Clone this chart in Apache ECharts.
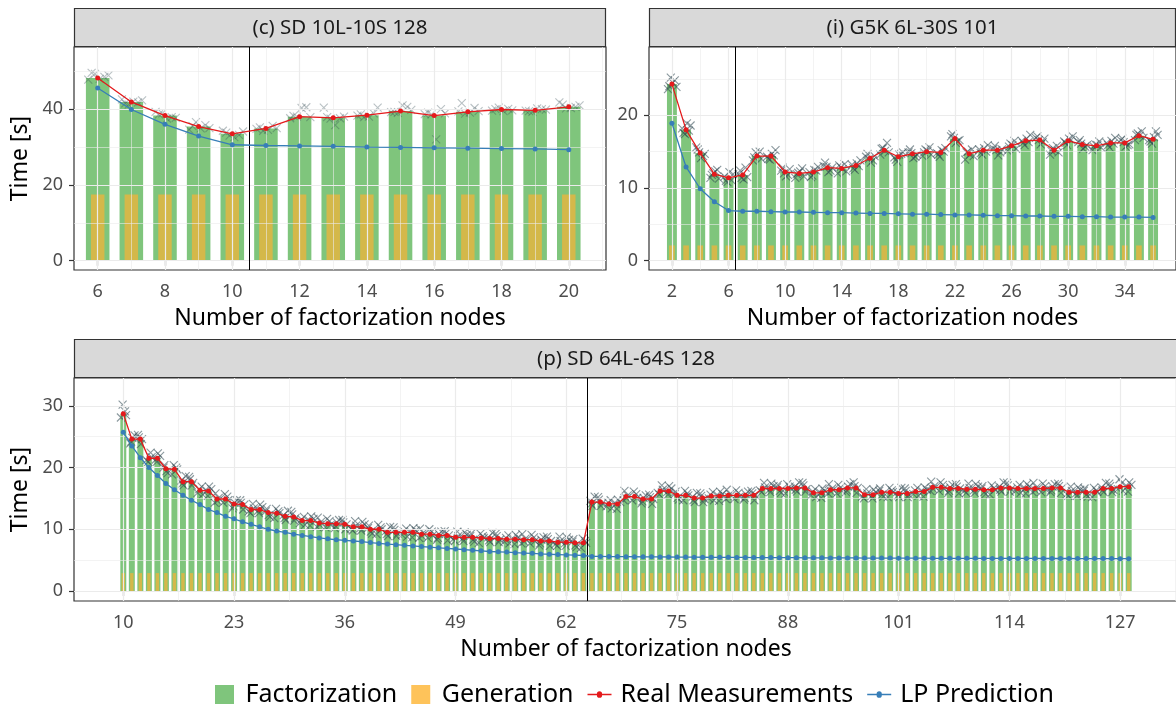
<!DOCTYPE html>
<html>
<head>
<meta charset="utf-8">
<script src="https://cdn.jsdelivr.net/npm/echarts@6/dist/echarts.min.js"></script>
<style>
  html, body { margin: 0; padding: 0; background: #ffffff; }
  #chart { width: 1176px; height: 709px; }
</style>
</head>
<body>
<div id="chart"></div>
<script>
// ---------- (c) SD 10L-10S 128 ----------
const nodesC = [6, 7, 8, 9, 10, 11, 12, 13, 14, 15, 16, 17, 18, 19, 20];
const realC = [48.2, 41.9, 38.3, 35.4, 33.5, 34.9, 38.0, 37.7, 38.4, 39.5, 38.3, 39.3, 39.9, 39.7, 40.6];
const lpC = [45.6, 39.9, 36.0, 32.9, 30.6, 30.4, 30.3, 30.2, 30.0, 29.9, 29.8, 29.7, 29.6, 29.5, 29.3];
const genC = [17.5, 17.5, 17.5, 17.5, 17.5, 17.5, 17.5, 17.5, 17.5, 17.5, 17.5, 17.5, 17.5, 17.5, 17.5];
const measC = [
  [47.8, 48.5, 49.3, 48.9, 48.0, 49.6], [41.2, 42.3, 42.0, 41.5, 42.6, 41.8],
  [37.5, 38.6, 39.3, 37.9, 38.9, 37.7], [34.6, 35.8, 36.6, 35.0, 34.9, 35.5],
  [33.0, 34.1, 32.6, 33.8, 34.3, 33.2], [34.5, 35.2, 34.8, 35.6, 34.3, 35.0],
  [37.6, 40.5, 38.0, 37.9, 40.3, 38.2], [37.5, 38.0, 35.8, 37.9, 40.4, 37.6],
  [38.0, 38.6, 38.3, 38.9, 37.9, 40.4], [39.2, 40.6, 39.0, 39.8, 41.0, 39.3],
  [38.6, 38.9, 32.0, 39.1, 38.7, 40.0], [39.1, 41.6, 39.4, 40.3, 38.8, 39.5],
  [39.6, 40.1, 40.4, 39.7, 39.5, 40.0], [39.3, 39.9, 40.2, 39.5, 39.6, 40.0],
  [40.3, 41.2, 41.8, 40.6, 40.2, 41.0]
];
const xTicksC = [6, 8, 10, 12, 14, 16, 18, 20];
const xMinorC = [7, 9, 11, 13, 15, 17, 19, 21];
const yTicksC = [0, 20, 40];
const yMinorC = [10, 30, 50];
const splitC = 10.5;

// ---------- (i) G5K 6L-30S 101 ----------
const nodesI = [2, 3, 4, 5, 6, 7, 8, 9, 10, 11, 12, 13, 14, 15, 16, 17, 18, 19, 20, 21, 22, 23, 24, 25, 26, 27, 28, 29, 30, 31, 32, 33, 34, 35, 36];
const realI = [24.3, 18.0, 14.8, 11.9, 11.4, 11.8, 14.4, 14.4, 12.2, 12.0, 12.2, 12.8, 12.7, 13.1, 14.1, 15.2, 14.3, 14.7, 15.0, 14.9, 16.8, 14.7, 15.2, 15.2, 15.8, 16.5, 16.6, 15.2, 16.5, 16.0, 15.8, 16.2, 16.2, 17.2, 16.7];
const lpI = [18.9, 12.9, 9.9, 8.1, 6.9, 6.8, 6.8, 6.75, 6.7, 6.7, 6.65, 6.6, 6.6, 6.55, 6.5, 6.5, 6.45, 6.4, 6.4, 6.35, 6.3, 6.3, 6.25, 6.2, 6.2, 6.15, 6.15, 6.1, 6.1, 6.05, 6.05, 6.0, 6.0, 6.0, 5.95];
const genI = [2.1, 2.1, 2.1, 2.1, 2.1, 2.1, 2.1, 2.1, 2.1, 2.1, 2.1, 2.1, 2.1, 2.1, 2.1, 2.1, 2.1, 2.1, 2.1, 2.1, 2.1, 2.1, 2.1, 2.1, 2.1, 2.1, 2.1, 2.1, 2.1, 2.1, 2.1, 2.1, 2.1, 2.1, 2.1];
const measI = [
  [23.6, 24.8, 25.2, 23.9, 24.5, 24.0], [17.4, 18.6, 18.9, 17.6, 18.2, 17.9],
  [14.1, 15.3, 15.6, 14.4, 14.9, 14.7], [11.4, 12.5, 12.0, 11.3, 12.3, 11.8],
  [10.8, 11.9, 12.2, 11.0, 11.6, 11.1], [11.2, 12.4, 11.9, 12.8, 11.4, 11.5],
  [13.8, 15.0, 14.9, 14.0, 14.6, 14.2], [13.9, 15.2, 14.7, 14.0, 14.3, 14.5],
  [11.6, 12.8, 12.4, 11.8, 12.0, 12.6], [11.4, 12.7, 12.1, 11.6, 12.3, 11.9],
  [11.7, 12.9, 12.5, 11.5, 12.2, 12.4], [12.2, 13.5, 13.0, 12.4, 12.9, 12.8],
  [12.0, 13.3, 12.9, 12.3, 12.6, 13.1], [12.5, 13.8, 13.4, 12.7, 13.2, 13.0],
  [13.5, 14.7, 14.3, 13.8, 14.0, 14.4], [14.6, 16.2, 15.5, 14.9, 15.1, 15.4],
  [13.6, 14.9, 14.6, 13.9, 14.2, 14.7], [14.1, 15.3, 14.9, 14.3, 14.8, 14.6],
  [14.4, 15.6, 15.3, 14.6, 15.1, 14.9], [14.3, 15.5, 15.2, 14.6, 14.8, 15.0],
  [16.2, 17.4, 17.1, 16.5, 16.9, 16.6], [13.9, 15.3, 15.0, 14.4, 14.6, 14.9],
  [14.6, 15.9, 15.5, 14.8, 15.3, 15.0], [14.5, 15.8, 15.4, 14.9, 15.2, 15.3],
  [15.1, 16.5, 16.1, 15.4, 15.9, 15.7], [15.9, 17.3, 16.8, 16.2, 16.5, 16.3],
  [16.0, 17.1, 16.9, 16.3, 16.6, 16.8], [14.6, 15.8, 15.5, 14.9, 15.2, 15.1],
  [15.9, 17.1, 16.8, 16.2, 16.4, 16.6], [15.4, 16.6, 16.3, 15.7, 16.1, 15.9],
  [15.2, 16.4, 16.0, 15.6, 15.9, 15.7], [15.6, 16.9, 16.5, 15.9, 16.2, 16.1],
  [15.7, 16.8, 16.6, 15.9, 16.3, 16.0], [16.6, 17.8, 17.5, 16.9, 17.2, 17.3],
  [16.1, 17.3, 17.0, 16.4, 16.6, 17.8]
];
const xTicksI = [2, 6, 10, 14, 18, 22, 26, 30, 34];
const xMinorI = [4, 8, 12, 16, 20, 24, 28, 32, 36];
const yTicksI = [0, 10, 20];
const yMinorI = [5, 15, 25];
const splitI = 6.5;

// ---------- (p) SD 64L-64S 128 ----------
const nodesP = [
  10, 11, 12, 13, 14, 15, 16, 17, 18, 19, 20, 21, 22, 23, 24, 25, 26, 27, 28, 29,
  30, 31, 32, 33, 34, 35, 36, 37, 38, 39, 40, 41, 42, 43, 44, 45, 46, 47, 48, 49,
  50, 51, 52, 53, 54, 55, 56, 57, 58, 59, 60, 61, 62, 63, 64, 65, 66, 67, 68, 69,
  70, 71, 72, 73, 74, 75, 76, 77, 78, 79, 80, 81, 82, 83, 84, 85, 86, 87, 88, 89,
  90, 91, 92, 93, 94, 95, 96, 97, 98, 99, 100, 101, 102, 103, 104, 105, 106, 107, 108, 109,
  110, 111, 112, 113, 114, 115, 116, 117, 118, 119, 120, 121, 122, 123, 124, 125, 126, 127, 128
];
const realP = [
  28.7, 24.6, 24.6, 21.5, 21.5, 19.8, 19.7, 17.7, 17.7, 16.3,
  16.2, 14.9, 14.9, 14.1, 14.0, 13.2, 13.2, 12.7, 12.6, 12.1,
  12.0, 11.4, 11.4, 11.0, 10.9, 10.9, 10.8, 10.4, 10.4, 10.0,
  10.0, 9.5, 9.5, 9.5, 9.5, 9.2, 9.2, 9.0, 9.0, 8.7,
  8.7, 8.7, 8.6, 8.5, 8.5, 8.4, 8.4, 8.3, 8.3, 8.1,
  8.1, 7.9, 7.9, 7.8, 7.8,
  14.4, 14.4, 14.1, 14.1, 15.3, 15.3, 14.9, 14.9, 16.2, 16.2,
  15.5, 15.5, 15.05, 15.05, 15.4, 15.4, 15.5, 15.5, 15.5, 15.5,
  16.6, 16.6, 16.6, 16.6, 16.7, 16.7, 15.9, 15.9, 16.4, 16.4,
  16.7, 16.7, 15.6, 15.6, 16.0, 16.0, 15.8, 15.8, 16.1, 16.1,
  16.8, 16.8, 16.6, 16.6, 16.5, 16.5, 16.4, 16.4, 16.7, 16.7,
  16.6, 16.6, 16.6, 16.6, 16.7, 16.7, 16.0, 16.0, 16.0, 16.0,
  16.6, 16.6, 16.9, 16.9
];
const lpP = [
  25.7, 23.5, 21.6, 20.0, 18.7, 17.4, 16.4, 15.5, 14.7, 14.0,
  13.2, 12.7, 12.1, 11.7, 11.2, 10.8, 10.4, 10.0, 9.7, 9.5,
  9.2, 9.0, 8.8, 8.6, 8.45, 8.3, 8.2, 8.1, 8.0, 7.85,
  7.7, 7.6, 7.5, 7.4, 7.3, 7.2, 7.1, 7.0, 6.9, 6.8,
  6.7, 6.6, 6.5, 6.4, 6.35, 6.3, 6.2, 6.15, 6.1, 6.0,
  5.95, 5.9, 5.85, 5.8, 5.75,
  5.6, 5.6, 5.58, 5.57, 5.56, 5.55, 5.54, 5.53, 5.52, 5.51,
  5.5, 5.49, 5.48, 5.47, 5.46, 5.45, 5.45, 5.44, 5.43, 5.42,
  5.42, 5.41, 5.4, 5.4, 5.39, 5.38, 5.38, 5.37, 5.36, 5.36,
  5.35, 5.35, 5.34, 5.34, 5.33, 5.33, 5.32, 5.32, 5.31, 5.31,
  5.3, 5.3, 5.3, 5.29, 5.29, 5.29, 5.28, 5.28, 5.28, 5.27,
  5.27, 5.27, 5.27, 5.26, 5.26, 5.26, 5.26, 5.25, 5.25, 5.25,
  5.25, 5.25, 5.24, 5.24
];
const genP = [
  2.9, 2.9, 2.9, 2.9, 2.9, 2.9, 2.9, 2.9, 2.9, 2.9, 2.9, 2.9, 2.9, 2.9, 2.9, 2.9, 2.9, 2.9, 2.9, 2.9,
  2.9, 2.9, 2.9, 2.9, 2.9, 2.9, 2.9, 2.9, 2.9, 2.9, 2.9, 2.9, 2.9, 2.9, 2.9, 2.9, 2.9, 2.9, 2.9, 2.9,
  2.9, 2.9, 2.9, 2.9, 2.9, 2.9, 2.9, 2.9, 2.9, 2.9, 2.9, 2.9, 2.9, 2.9, 2.9, 2.9, 2.9, 2.9, 2.9, 2.9,
  2.9, 2.9, 2.9, 2.9, 2.9, 2.9, 2.9, 2.9, 2.9, 2.9, 2.9, 2.9, 2.9, 2.9, 2.9, 2.9, 2.9, 2.9, 2.9, 2.9,
  2.9, 2.9, 2.9, 2.9, 2.9, 2.9, 2.9, 2.9, 2.9, 2.9, 2.9, 2.9, 2.9, 2.9, 2.9, 2.9, 2.9, 2.9, 2.9, 2.9,
  2.9, 2.9, 2.9, 2.9, 2.9, 2.9, 2.9, 2.9, 2.9, 2.9, 2.9, 2.9, 2.9, 2.9, 2.9, 2.9, 2.9, 2.9, 2.9
];
const measP = [
  [28.1, 29.1, 30.2, 28.5], [24.2, 25.2, 24.8, 23.9], [23.8, 24.9, 25.3, 24.6], [21.2, 22.4, 20.9, 21.7],
  [20.9, 21.9, 22.3, 21.3], [19.4, 20.4, 20.0, 19.1], [18.9, 20.0, 20.4, 19.7], [17.4, 18.6, 17.1, 17.9],
  [17.1, 18.1, 18.5, 17.5], [15.9, 16.9, 16.5, 15.6], [15.4, 16.5, 16.9, 16.2], [14.6, 15.8, 14.3, 15.1],
  [14.3, 15.3, 15.7, 14.7], [13.7, 14.7, 14.3, 13.4], [13.2, 14.3, 14.7, 14.0], [12.9, 14.1, 12.6, 13.4],
  [12.6, 13.6, 14.0, 13.0], [12.3, 13.3, 12.9, 12.0], [11.8, 12.9, 13.3, 12.6], [11.8, 13.0, 11.5, 12.3],
  [11.4, 12.4, 12.8, 11.8], [11.0, 12.0, 11.6, 10.7], [10.6, 11.7, 12.1, 11.4], [10.7, 11.9, 10.4, 11.2],
  [10.3, 11.3, 11.7, 10.7], [10.5, 11.5, 11.1, 10.2], [10.0, 11.1, 11.5, 10.8], [10.1, 11.3, 9.8, 10.6],
  [9.8, 10.8, 11.2, 10.2], [9.6, 10.6, 10.2, 9.3], [9.2, 10.3, 10.7, 10.0], [9.2, 10.4, 8.9, 9.7],
  [8.9, 9.9, 10.3, 9.3], [9.1, 10.1, 9.7, 8.8], [8.7, 9.8, 10.2, 9.5], [8.9, 10.1, 8.6, 9.4],
  [8.6, 9.6, 10.0, 9.0], [8.6, 9.6, 9.2, 8.3], [8.2, 9.3, 9.7, 9.0], [8.4, 9.6, 8.1, 8.9],
  [8.1, 9.1, 9.5, 8.5], [8.3, 9.3, 8.9, 8.0], [7.8, 8.9, 9.3, 8.6], [8.2, 9.4, 7.9, 8.7],
  [7.9, 8.9, 9.3, 8.3], [8.0, 9.0, 8.6, 7.7], [7.6, 8.7, 9.1, 8.4], [8.0, 9.2, 7.7, 8.5],
  [7.7, 8.7, 9.1, 8.1], [7.7, 8.7, 8.3, 7.4], [7.3, 8.4, 8.8, 8.1], [7.6, 8.8, 7.3, 8.1],
  [7.3, 8.3, 8.7, 7.7], [7.4, 8.4, 8.0, 7.1], [7.0, 8.1, 8.5, 7.8],
  [14.1, 15.3, 13.8, 14.6], [13.8, 14.8, 15.2, 14.2], [13.7, 14.7, 14.3, 13.4], [13.3, 14.4, 14.8, 14.1],
  [15.0, 16.2, 14.7, 15.5], [14.7, 15.7, 16.1, 15.1], [14.5, 15.5, 15.1, 14.2], [14.1, 15.2, 15.6, 14.9],
  [15.9, 17.1, 15.6, 16.4], [15.6, 16.6, 17.0, 16.0], [15.1, 16.1, 15.7, 14.8], [14.7, 15.8, 16.2, 15.5],
  [14.7, 15.9, 14.4, 15.3], [14.4, 15.4, 15.8, 14.9], [15.0, 16.0, 15.6, 14.7], [14.6, 15.7, 16.1, 15.4],
  [15.2, 16.4, 14.9, 15.7], [14.9, 15.9, 16.3, 15.3], [15.1, 16.1, 15.7, 14.8], [14.7, 15.8, 16.2, 15.5],
  [16.3, 17.5, 16.0, 16.8], [16.0, 17.0, 17.4, 16.4], [16.2, 17.2, 16.8, 15.9], [15.8, 16.9, 17.3, 16.6],
  [16.4, 17.6, 16.1, 16.9], [16.1, 17.1, 17.5, 16.5], [15.5, 16.5, 16.1, 15.2], [15.1, 16.2, 16.6, 15.9],
  [16.1, 17.3, 15.8, 16.6], [15.8, 16.8, 17.2, 16.2], [16.3, 17.3, 16.9, 16.0], [15.9, 17.0, 17.6, 16.7],
  [15.3, 16.5, 15.0, 15.8], [15.0, 16.0, 16.4, 15.4], [15.6, 16.6, 16.2, 15.3], [15.2, 16.3, 16.7, 16.0],
  [15.5, 16.7, 15.2, 16.0], [15.2, 16.2, 16.6, 15.6], [15.7, 16.7, 16.3, 15.4], [15.3, 16.4, 16.8, 16.1],
  [16.5, 17.7, 16.2, 17.0], [16.2, 17.2, 17.6, 16.6], [16.2, 17.2, 16.8, 15.9], [15.8, 16.9, 17.3, 16.6],
  [16.2, 17.4, 15.9, 16.7], [15.9, 16.9, 17.3, 16.3], [16.0, 17.0, 16.6, 15.7], [15.6, 16.7, 17.1, 16.4],
  [16.4, 17.6, 16.1, 16.9], [16.1, 17.1, 17.5, 16.5], [16.2, 17.2, 16.8, 15.9], [15.8, 16.9, 17.3, 16.6],
  [16.3, 17.5, 16.0, 16.8], [16.0, 17.0, 17.4, 16.4], [16.3, 17.3, 16.9, 16.0], [15.9, 17.0, 17.4, 16.7],
  [15.7, 16.9, 15.4, 16.2], [15.4, 16.4, 16.8, 15.8], [15.6, 16.6, 16.2, 15.3], [15.2, 16.3, 16.7, 16.0],
  [16.3, 17.5, 16.0, 16.8], [16.0, 17.0, 17.4, 16.4], [16.5, 17.5, 18.1, 16.2], [16.1, 17.2, 17.6, 16.9]
];
const xTicksP = [10, 23, 36, 49, 62, 75, 88, 101, 114, 127];
const xMinorP = [16.5, 29.5, 42.5, 55.5, 68.5, 81.5, 94.5, 107.5, 120.5, 133.5];
const yTicksP = [0, 10, 20, 30];
const yMinorP = [5, 15, 25];
const splitP = 64.5;

// ---------- styling ----------
const FONT = '"Noto Sans", "DejaVu Sans", sans-serif';
const GREEN = 'rgba(77,175,74,0.72)';
const ORANGE = 'rgba(252,178,50,0.68)';
const ORANGE_KEY = '#FEC35A';
const RED = '#E41A1C';
const BLUE = '#377EB8';
const GRIDLINE = '#EBEBEB';
const JITTER = [-0.28, 0.2, -0.08, 0.32, 0.06, -0.18];
const CROSS_PATH = 'path://M0,0L10,10M10,0L0,10';

const panels = [
  {
    title: '(c) SD 10L-10S 128', box: { left: 74, top: 47, width: 532, height: 223 },
    xRange: [5.296, 21.106], yRange: [-2.45, 56.4], yName: 'Time [s]', crossAlpha: 0.42,
    nodes: nodesC, real: realC, lp: lpC, gen: genC, meas: measC, split: splitC,
    xTicks: xTicksC, xMinor: xMinorC, yTicks: yTicksC, yMinor: yMinorC
  },
  {
    title: '(i) G5K 6L-30S 101', box: { left: 649, top: 47, width: 527, height: 223 },
    xRange: [0.38, 37.62], yRange: [-1.28, 29.4], yName: '', crossAlpha: 0.7,
    nodes: nodesI, real: realI, lp: lpI, gen: genI, meas: measI, split: splitI,
    xTicks: xTicksI, xMinor: xMinorI, yTicks: yTicksI, yMinor: yMinorI
  },
  {
    title: '(p) SD 64L-64S 128', box: { left: 74, top: 378, width: 1104, height: 223 },
    xRange: [4.213, 133.787], yRange: [-1.62, 34.5], yName: 'Time [s]', crossAlpha: 0.7,
    nodes: nodesP, real: realP, lp: lpP, gen: genP, meas: measP, split: splitP,
    xTicks: xTicksP, xMinor: xMinorP, yTicks: yTicksP, yMinor: yMinorP
  }
];

const grids = [], xAxes = [], yAxes = [], series = [], graphics = [];

panels.forEach((p, g) => {
  grids.push(Object.assign({
    show: true, backgroundColor: '#ffffff', borderColor: '#333333', borderWidth: 1.2,
    containLabel: false, outerBoundsMode: 'none'
  }, p.box));

  // facet strip above the panel
  graphics.push({
    type: 'rect', z: 10,
    shape: { x: p.box.left + 0.5, y: p.box.top - 38.5, width: p.box.width - 1, height: 38 },
    style: { fill: '#D9D9D9', stroke: '#333333', lineWidth: 1.2 }
  });
  graphics.push({
    type: 'text', z: 11,
    x: p.box.left + p.box.width / 2, y: p.box.top - 19,
    style: {
      text: p.title, fill: '#1A1A1A', fontSize: 20.5, fontFamily: FONT,
      align: 'center', verticalAlign: 'middle', textAlign: 'center', textVerticalAlign: 'middle'
    }
  });

  const labelStyle = { fontFamily: FONT, fontSize: 18, color: '#4D4D4D' };
  xAxes.push({
    type: 'value', gridIndex: g, min: p.xRange[0], max: p.xRange[1],
    name: 'Number of factorization nodes', nameLocation: 'middle', nameGap: 37,
    nameTextStyle: { fontFamily: FONT, fontSize: 23, color: '#000000' },
    axisLine: { show: false },
    axisTick: { show: true, length: 5, customValues: p.xTicks, lineStyle: { color: '#333333', width: 1.2 } },
    axisLabel: Object.assign({ customValues: p.xTicks, margin: 13 }, labelStyle),
    splitLine: { show: false }
  });
  // second, hidden axis so the narrow bars sit centred on the wide ones
  xAxes.push({ type: 'value', gridIndex: g, min: p.xRange[0], max: p.xRange[1], show: false });

  yAxes.push({
    type: 'value', gridIndex: g, min: p.yRange[0], max: p.yRange[1],
    name: p.yName, nameLocation: 'middle', nameGap: 42, nameRotate: 90,
    nameTextStyle: { fontFamily: FONT, fontSize: 23, color: '#000000' },
    axisLine: { show: false },
    axisTick: { show: true, length: 5, customValues: p.yTicks, lineStyle: { color: '#333333', width: 1.2 } },
    axisLabel: Object.assign({ customValues: p.yTicks, margin: 11 }, labelStyle),
    splitLine: { show: false }
  });

  const xa = 2 * g, xb = 2 * g + 1, ya = g;

  // panel grid lines (major + minor)
  const gl = [];
  p.xMinor.forEach(v => gl.push({ xAxis: v, lineStyle: { color: GRIDLINE, width: 0.6, type: 'solid' } }));
  p.yMinor.forEach(v => gl.push({ yAxis: v, lineStyle: { color: GRIDLINE, width: 0.6, type: 'solid' } }));
  p.xTicks.forEach(v => gl.push({ xAxis: v, lineStyle: { color: GRIDLINE, width: 1.2, type: 'solid' } }));
  p.yTicks.forEach(v => gl.push({ yAxis: v, lineStyle: { color: GRIDLINE, width: 1.2, type: 'solid' } }));
  series.push({
    type: 'line', xAxisIndex: xa, yAxisIndex: ya, data: [], z: 1, silent: true,
    markLine: { silent: true, symbol: ['none', 'none'], label: { show: false }, animation: false, data: gl }
  });

  series.push({
    type: 'bar', name: 'Factorization', xAxisIndex: xa, yAxisIndex: ya, z: 2,
    barWidth: '70%', itemStyle: { color: GREEN }, silent: true,
    data: p.nodes.map((n, i) => [n, p.real[i]])
  });
  series.push({
    type: 'bar', name: 'Generation', xAxisIndex: xb, yAxisIndex: ya, z: 3,
    barWidth: '40%', itemStyle: { color: ORANGE }, silent: true,
    data: p.nodes.map((n, i) => [n, p.gen[i]])
  });

  // individual runs, jittered sideways
  const pts = [];
  p.meas.forEach((runs, i) => {
    runs.forEach((v, k) => pts.push([p.nodes[i] + JITTER[(k + 2 * i) % JITTER.length], v]));
  });
  series.push({
    type: 'scatter', xAxisIndex: xa, yAxisIndex: ya, z: 4, silent: true,
    symbol: CROSS_PATH, symbolSize: 8,
    itemStyle: { color: 'rgba(0,0,0,0)', borderColor: 'rgba(47,72,80,' + p.crossAlpha + ')', borderWidth: 1.1 },
    data: pts
  });

  series.push({
    type: 'line', name: 'Real Measurements', xAxisIndex: xa, yAxisIndex: ya, z: 5,
    symbol: 'circle', symbolSize: 5, showSymbol: true, silent: true,
    lineStyle: { color: RED, width: 1.3 }, itemStyle: { color: RED },
    data: p.nodes.map((n, i) => [n, p.real[i]]),
    markLine: {
      silent: true, symbol: ['none', 'none'], label: { show: false }, animation: false,
      data: [{ xAxis: p.split, lineStyle: { color: '#000000', width: 1, type: 'solid' } }]
    }
  });
  series.push({
    type: 'line', name: 'LP Prediction', xAxisIndex: xa, yAxisIndex: ya, z: 5,
    symbol: 'circle', symbolSize: 5, showSymbol: true, silent: true,
    lineStyle: { color: BLUE, width: 1.3 }, itemStyle: { color: BLUE },
    data: p.nodes.map((n, i) => [n, p.lp[i]])
  });
});

// legend keys: filled square for bars, thin line with a small dot for lines
const SQUARE = 'path://M0,0L10,0L10,10L0,10Z';
const LINE_DOT = 'path://M0,9.05L9.4,9.05A2.6,2.6 0 0 1 14.6,9.05L24,9.05L24,10.35L14.6,10.35A2.6,2.6 0 0 1 9.4,10.35L0,10.35Z';
const chart = echarts.init(document.getElementById('chart'), null, { renderer: 'canvas' });
chart.setOption({
  animation: false,
  backgroundColor: '#ffffff',
  textStyle: { fontFamily: FONT },
  grid: grids,
  xAxis: xAxes,
  yAxis: yAxes,
  graphic: graphics,
  legend: {
    left: 210, top: 677, orient: 'horizontal',
    itemWidth: 24, itemHeight: 19, itemGap: 14, symbolKeepAspect: true,
    selectedMode: false,
    textStyle: { fontFamily: FONT, fontSize: 25, color: '#000000', padding: [0, 0, 0, 4] },
    data: [
      { name: 'Factorization', icon: SQUARE },
      { name: 'Generation', icon: SQUARE, itemStyle: { color: ORANGE_KEY } },
      { name: 'Real Measurements', icon: LINE_DOT, itemStyle: { color: RED } },
      { name: 'LP Prediction', icon: LINE_DOT, itemStyle: { color: BLUE } }
    ]
  },
  series: series
});
</script>
</body>
</html>
